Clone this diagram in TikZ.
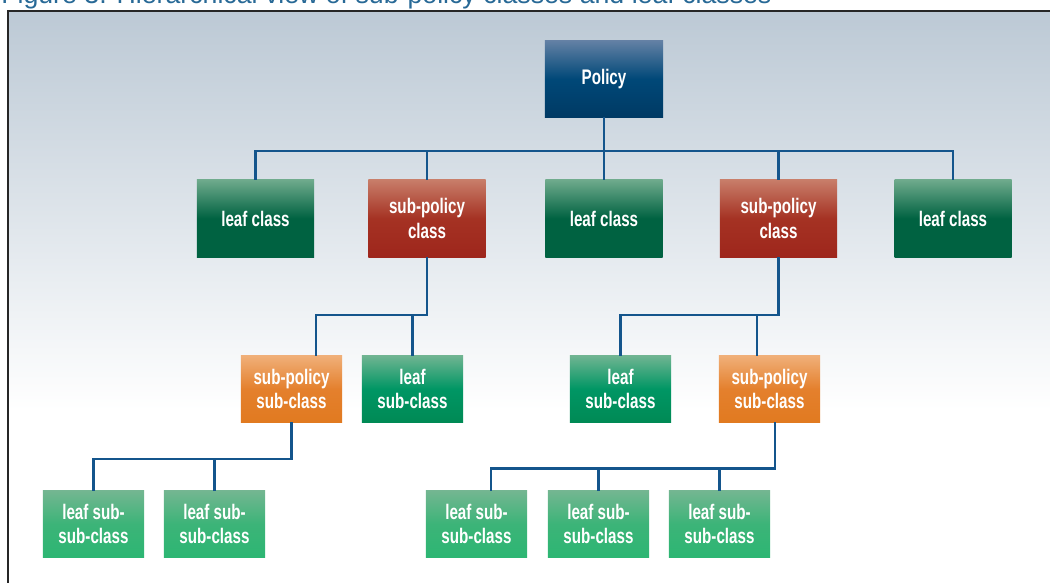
\documentclass[tikz,border=0pt]{standalone}
\usepackage{fontspec}
\usepackage{xcolor}
\setmainfont{Liberation Sans}
\newfontfamily\cajafont[FakeStretch=0.72]{Liberation Sans}

\definecolor{fondo}{RGB}{188,201,213}
\definecolor{titulo}{RGB}{40,105,150}
\definecolor{linea}{RGB}{20,85,140}
\definecolor{polA}{RGB}{98,128,164}
\definecolor{polM}{RGB}{0,72,120}
\definecolor{polB}{RGB}{0,58,100}
\definecolor{hojaA}{RGB}{110,170,140}
\definecolor{hojaB}{RGB}{0,98,65}
\definecolor{subA}{RGB}{200,125,105}
\definecolor{subM}{RGB}{165,50,35}
\definecolor{subB}{RGB}{158,38,28}
\definecolor{narA}{RGB}{240,175,120}
\definecolor{narM}{RGB}{228,128,45}
\definecolor{narB}{RGB}{225,122,32}
\definecolor{medA}{RGB}{110,180,145}
\definecolor{medM}{RGB}{0,150,100}
\definecolor{medB}{RGB}{0,138,85}
\definecolor{clarA}{RGB}{115,182,145}
\definecolor{clarM}{RGB}{60,180,120}
\definecolor{clarB}{RGB}{45,182,115}

\begin{document}
\begin{tikzpicture}[x=0.025cm, y=-0.025cm,
    wire/.style={draw=linea, line width=1.6pt},
    caja/.style={text=white, align=center, inner sep=0pt,
        font=\cajafont\bfseries\fontsize{15}{17.5}\selectfont},
    grande/.style={caja, minimum width=2.925cm, minimum height=1.925cm},
    chica/.style={caja, minimum width=2.525cm, minimum height=1.65cm},
    policy/.style={grande, minimum width=2.95cm, minimum height=1.9cm,
        top color=polA, bottom color=polB, middle color=polM},
    leafclass/.style={grande, top color=hojaA, bottom color=hojaB, middle color=hojaB},
    subpolicy/.style={grande, top color=subA, bottom color=subB, middle color=subM},
    subsubpolicy/.style={chica, top color=narA, bottom color=narB, middle color=narM},
    leafsub/.style={chica, top color=medA, bottom color=medB, middle color=medM},
    leafsubsub/.style={chica, top color=clarA, bottom color=clarB, middle color=clarM}]

    \useasboundingbox (0,0) rectangle (1050,583);

    % fondo y marco
    \shade[top color=fondo, bottom color=white] (8,11) rectangle (1050,410);
    \draw[line width=1.3pt, black!85] (8,583) -- (8,11) -- (1050,11);

    % titulo (cortado arriba)
    \node[anchor=base west, inner sep=0pt, text=titulo,
        font=\fontsize{19}{22}\selectfont] (tit) at (1,3.5)
        {Figure 3. Hierarchical view of sub-policy classes and leaf classes};

    % nivel 0
    \node[policy] (pol) at (604,79) {Policy};

    % nivel 1
    \node[leafclass] (lc1) at (255.5,218.5) {leaf class};
    \node[subpolicy] (spc1) at (427,218.5) {sub-policy\\class};
    \node[leafclass] (lc2) at (604,218.5) {leaf class};
    \node[subpolicy] (spc2) at (778.5,218.5) {sub-policy\\class};
    \node[leafclass] (lc3) at (953,218.5) {leaf class};

    % nivel 2
    \node[subsubpolicy] (sps1) at (291.5,389) {sub-policy\\sub-class};
    \node[leafsub] (ls1) at (412.5,389) {leaf\\sub-class};
    \node[leafsub] (ls2) at (620.5,389) {leaf\\sub-class};
    \node[subsubpolicy] (sps2) at (769.5,389) {sub-policy\\sub-class};

    % nivel 3
    \foreach \n/\x in {lss1/93.5, lss2/214.5, lss3/476.5, lss4/598.5, lss5/719.5}
        \node[leafsubsub] (\n) at (\x,524) {leaf sub-\\sub-class};

    % barras
    \coordinate (b1) at (0,151);
    \coordinate (b2) at (0,315);
    \coordinate (b3) at (0,459);
    \coordinate (b4) at (0,468.5);
    \coordinate (d1) at ([xshift=0.61cm]sps1.north);
    \coordinate (d2) at ([xshift=-0.31cm]sps2.north);
    \coordinate (d3) at ([xshift=0.36cm]lss3.north);
    \coordinate (d4) at ([xshift=0.14cm]sps2.south);

    % conexiones nivel 1
    \draw[wire] (pol.south) -- (pol |- b1);
    \draw[wire] (lc1.north) |- (lc3 |- b1) -- (lc3.north);
    \foreach \n in {spc1,lc2,spc2}
        \draw[wire] (\n.north) -- (\n |- b1);

    % conexiones nivel 2
    \draw[wire] (spc1.south) |- (d1 |- b2) -- (d1);
    \draw[wire] (ls1.north) -- (ls1 |- b2);
    \draw[wire] (spc2.south) |- (ls2 |- b2) -- (ls2.north);
    \draw[wire] (d2) -- (d2 |- b2);

    % conexiones nivel 3
    \draw[wire] (sps1.south) |- (lss1 |- b3) -- (lss1.north);
    \draw[wire] (lss2.north) -- (lss2 |- b3);
    \draw[wire] (d4) |- (d3 |- b4) -- (d3);
    \foreach \n in {lss4,lss5}
        \draw[wire] (\n.north) -- (\n |- b4);
\end{tikzpicture}
\end{document}
